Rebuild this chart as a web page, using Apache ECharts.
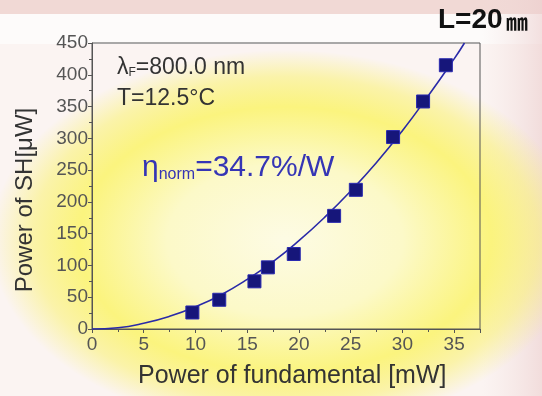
<!DOCTYPE html>
<html><head><meta charset="utf-8">
<script src="https://cdn.jsdelivr.net/npm/echarts@6/dist/echarts.min.js"></script>
<style>html,body{margin:0;padding:0;}#c{width:542px;height:396px;}</style>
</head><body><div id="c"></div>
<script>
// Measured points: fundamental power [mW] and SH power [μW]
const fundamental = [9.7, 12.3, 15.7, 17.0, 19.5, 23.4, 25.5, 29.1, 32.0, 34.2];
const shPower = [26, 46, 75, 97, 118, 178, 219, 302, 358, 415];
// Fit curve
const fitX = [0, 2.5, 5, 7.5, 10, 12.5, 15, 17.5, 20, 22.5, 25, 27.5, 30, 32.5, 35, 36];
const fitY = [0, 2, 9, 20, 35, 54, 78, 106, 139, 176, 217, 262, 312, 367, 425, 450];
const xTicks = [0, 5, 10, 15, 20, 25, 30, 35];
const yTicks = [0, 50, 100, 150, 200, 250, 300, 350, 400, 450];

const chart = echarts.init(document.getElementById('c'));
const FONT = '"Liberation Sans", "DejaVu Sans", sans-serif';
const axisCol = '#555';
chart.setOption({
  backgroundColor: '#fbf4f2',
  animation: false,
  graphic: [
    {type:'rect', silent:true, z:-10, shape:{x:0,y:0,width:542,height:14}, style:{fill:'#f1d9d5'}},
    {type:'rect', silent:true, z:-10, shape:{x:0,y:14,width:542,height:30}, style:{fill:'#fdfbfa'}},
    {type:'rect', silent:true, z:-10, shape:{x:482,y:0,width:60,height:396}, style:{fill:{type:'linear',x:0,y:0,x2:1,y2:0,colorStops:[{offset:0,color:'rgba(240,220,220,0)'},{offset:1,color:'rgba(236,205,205,0.6)'}]}}},
    {type:'circle', silent:true, z:-9, x:285, y:240, scaleX:1.55, scaleY:1, shape:{cx:0,cy:0,r:190},
      style:{fill:{type:'radial',x:0.5,y:0.5,r:0.5,colorStops:[
        {offset:0,color:'rgba(253,251,228,1)'},
        {offset:0.4,color:'rgba(252,249,200,1)'},
        {offset:0.7,color:'rgba(251,244,120,0.95)'},
        {offset:0.86,color:'rgba(250,242,110,0.55)'},
        {offset:1,color:'rgba(250,242,110,0)'}]}}},
    {type:'text', left:438, top:6, style:{text:'{a|L=20} {b|㎜}', rich:{a:{font:'bold 28px "Liberation Sans Narrow", "Liberation Sans", sans-serif', fill:'#111'}, b:{font:'bold 22px "Noto Sans CJK JP", sans-serif', fill:'#111', padding:[4,0,0,0]}}}},
    {type:'text', left:117, top:56, style:{text:'{l|λ}{s|F}{l|=800.0 nm}', rich:{l:{fontSize:23,fontFamily:FONT,fill:'#333'},s:{fontSize:12,fontFamily:FONT,fill:'#333',padding:[10,0,0,0]}}}},
    {type:'text', left:117, top:87, style:{text:'T=12.5°C', font:'23px '+FONT, fill:'#333'}},
    {type:'text', left:142, top:153, style:{text:'{l|η}{s|norm}{l|=34.7%/W}', rich:{l:{fontSize:30,fontFamily:FONT,fill:'#3535b5'},s:{fontSize:16,fontFamily:FONT,fill:'#3535b5',padding:[14,0,0,0]}}}},
    {type:'text', left:138, top:364, style:{text:'Power of fundamental [mW]', font:'25px '+FONT, fill:'#333'}},
    {type:'text', x:25, y:200, rotation:Math.PI/2, style:{text:'Power of SH[μW]', font:'24px '+FONT, fill:'#333', align:'center', verticalAlign:'middle'}}
  ],
  grid: {left:92, right:62, top:43, bottom:67, show:true, borderColor:'#555', borderWidth:1, backgroundColor:'transparent'},
  xAxis: {
    type:'value', min:0, max:37.5, interval:5,
    axisLine:{lineStyle:{color:axisCol}},
    axisTick:{length:4, lineStyle:{color:axisCol}},
    minorTick:{show:true, splitNumber:2, length:3, lineStyle:{color:axisCol}},
    splitLine:{show:false},
    axisLabel:{fontSize:19, fontFamily:FONT, color:'#555', margin:6,
      formatter: v => xTicks.includes(v) ? String(v) : ''}
  },
  yAxis: {
    type:'value', min:0, max:450, interval:50,
    axisLine:{show:true, lineStyle:{color:axisCol}},
    axisTick:{show:true, length:4, lineStyle:{color:axisCol}},
    minorTick:{show:true, splitNumber:2, length:3, lineStyle:{color:axisCol}},
    splitLine:{show:false},
    axisLabel:{fontSize:19, fontFamily:FONT, color:'#555', margin:4,
      formatter: v => yTicks.includes(v) ? String(v) : ''}
  },
  series: [
    {type:'line', data: fitX.map((x,i)=>[x, fitY[i]]), smooth:true, showSymbol:false,
      lineStyle:{color:'#2a2aa8', width:1.6}, z:2},
    {type:'scatter', data: fundamental.map((x,i)=>[x, shPower[i]]), symbol:'rect', symbolSize:13,
      itemStyle:{color:'#16167a', borderColor:'#2a2ab0', borderWidth:1, opacity:1}, z:3}
  ]
});
</script>
</body></html>
